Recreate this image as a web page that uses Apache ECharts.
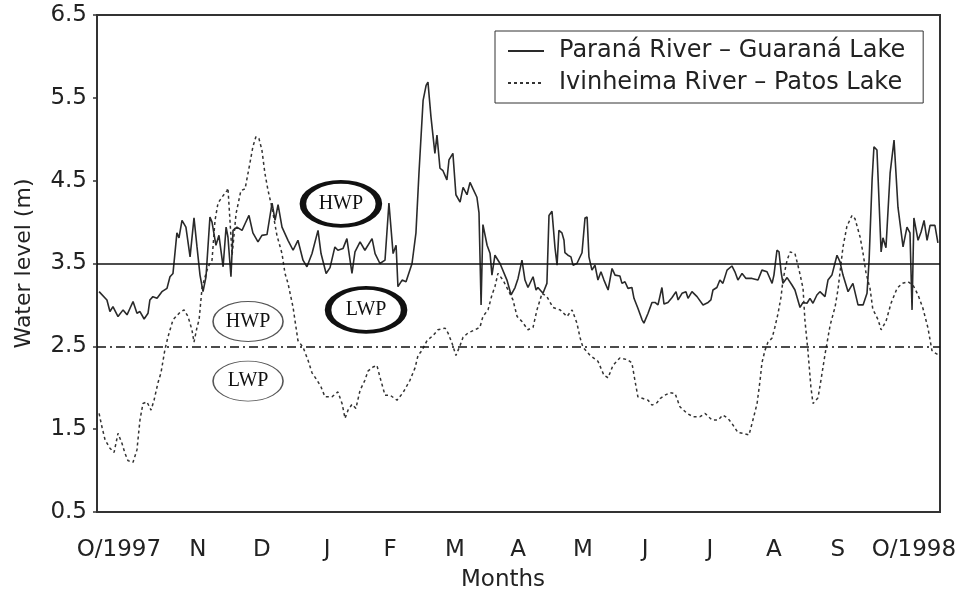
<!DOCTYPE html>
<html>
<head>
<meta charset="utf-8">
<title>Water level</title>
<script src="https://cdn.jsdelivr.net/npm/echarts@6/dist/echarts.min.js"></script>
<style>
	html, body { margin: 0; padding: 0; background: #fff; }
	#chart { width: 966px; height: 590px; }
</style>
</head>
<body>
<div id="chart"></div>
<script>
	// month labels and where they sit (days since 1 Oct 1997)
	var monthLabels = ['O/1997', 'N', 'D', 'J', 'F', 'M', 'A', 'M', 'J', 'J', 'A', 'S', 'O/1998'];
	var monthDays = [9.5, 43.7, 71.4, 99.6, 126.9, 155.0, 182.3, 210.4, 237.3, 265.4, 293.1, 320.8, 353.7];
	var levelTicks = [0.5, 1.5, 2.5, 3.5, 4.5, 5.5, 6.5];

	// Paraná River - Guaraná Lake
	var paranaDays = [0.9,4.3,5.6,6.9,9.1,11.3,13.0,14.3,15.6,17.3,
		18.6,20.4,22.1,22.9,24.2,26.0,28.1,30.3,31.6,32.9,
		34.6,35.5,36.8,38.5,40.3,42.0,43.3,44.6,45.9,47.2,
		48.9,49.8,51.5,52.8,54.6,55.9,56.7,58.0,58.9,60.6,
		62.8,64.1,65.8,67.5,69.7,71.4,73.6,75.8,77.1,78.4,
		80.1,82.7,84.9,87.0,89.2,90.9,93.1,95.7,97.0,99.2,
		100.9,103.0,104.3,106.5,108.2,110.4,111.7,113.9,116.0,119.1,
		120.4,122.5,124.7,126.4,128.2,129.5,130.3,132.1,133.8,136.4,
		138.1,139.4,141.2,142.5,143.3,144.6,146.3,147.2,148.5,149.8,
		151.5,152.4,154.1,155.4,157.2,158.5,160.2,161.5,162.8,164.5,
		165.4,166.3,167.1,168.9,170.2,171.0,172.3,174.5,177.5,179.3,
		181.0,182.3,184.0,185.3,186.6,188.8,190.1,190.9,193.1,194.8,
		195.7,197.0,198.3,199.2,200.0,201.3,202.2,202.6,203.9,205.2,
		206.1,207.8,210.0,211.3,212.2,213.0,214.3,215.6,216.9,218.2,
		219.5,221.3,223.0,224.3,226.4,227.3,228.6,229.9,231.6,232.5,
		234.2,236.0,236.8,238.6,240.3,241.6,242.9,244.6,245.5,247.2,
		249.0,250.7,251.6,253.3,255.0,255.9,257.6,259.8,262.4,264.6,
		265.8,266.7,268.4,269.7,271.0,272.8,274.9,276.2,277.5,279.3,
		281.0,283.6,286.2,287.9,290.1,292.3,293.1,294.4,295.3,296.2,
		297.0,298.8,300.9,302.2,304.4,305.7,307.4,308.7,310.0,311.7,
		313.0,315.2,316.5,318.2,320.4,321.7,323.0,325.2,327.3,329.5,
		331.7,333.4,334.3,335.6,336.4,337.7,339.5,340.3,341.6,343.4,
		345.1,346.8,349.0,350.7,352.0,352.9,353.7,355.5,356.8,358.1,
		359.4,360.7,362.8,364.1];
	var paranaLevels = [3.16,3.06,2.92,2.98,2.86,2.94,2.88,2.96,3.04,2.90,
		2.92,2.83,2.90,3.06,3.10,3.08,3.16,3.20,3.34,3.38,
		3.87,3.81,4.02,3.94,3.58,4.05,3.70,3.36,3.16,3.34,
		4.06,4.00,3.72,3.84,3.46,3.94,3.82,3.34,3.90,3.94,
		3.90,3.98,4.08,3.87,3.76,3.84,3.85,4.23,4.02,4.21,
		3.94,3.78,3.66,3.78,3.54,3.46,3.62,3.90,3.62,3.38,
		3.45,3.70,3.66,3.68,3.80,3.38,3.64,3.76,3.66,3.80,
		3.62,3.50,3.54,4.23,3.62,3.72,3.22,3.30,3.28,3.50,
		3.87,4.59,5.47,5.65,5.69,5.27,4.83,5.05,4.65,4.62,
		4.51,4.75,4.83,4.33,4.24,4.42,4.33,4.48,4.40,4.30,
		4.11,3.00,3.97,3.72,3.62,3.36,3.60,3.50,3.30,3.12,
		3.21,3.32,3.54,3.30,3.21,3.34,3.18,3.21,3.14,3.26,
		4.08,4.13,3.69,3.48,3.90,3.87,3.78,3.63,3.60,3.58,
		3.48,3.50,3.63,4.05,4.06,3.58,3.42,3.48,3.30,3.40,
		3.30,3.18,3.44,3.36,3.35,3.26,3.28,3.20,3.21,3.08,
		2.96,2.82,2.78,2.90,3.03,3.03,3.00,3.21,3.01,3.03,
		3.09,3.16,3.06,3.14,3.16,3.08,3.16,3.10,3.00,3.03,
		3.06,3.18,3.21,3.30,3.26,3.42,3.47,3.40,3.30,3.38,
		3.32,3.32,3.30,3.42,3.40,3.26,3.36,3.66,3.64,3.40,
		3.26,3.33,3.24,3.18,2.97,3.03,3.02,3.08,3.02,3.12,
		3.16,3.10,3.30,3.36,3.60,3.52,3.36,3.16,3.26,3.00,
		3.00,3.14,3.54,4.51,4.91,4.87,3.64,3.81,3.69,4.59,
		4.99,4.18,3.70,3.94,3.87,2.94,4.05,3.78,3.88,4.02,
		3.78,3.96,3.96,3.75];

	// Ivinheima River - Patos Lake
	var ivinDays = [0.9,2.2,3.5,5.6,7.4,9.1,10.8,12.1,13.4,15.6,
		17.3,18.6,19.9,21.6,23.4,24.7,26.4,27.7,29.4,30.7,
		32.9,35.9,37.7,39.4,41.1,42.0,43.3,44.2,45.5,46.8,
		48.1,49.8,51.1,52.4,54.1,56.3,56.7,58.5,60.2,62.3,
		64.1,66.2,67.5,68.8,70.1,71.4,72.7,74.0,75.8,77.9,
		80.1,81.4,82.7,84.9,87.0,89.2,91.4,93.1,95.3,97.0,
		98.7,101.7,104.3,106.1,107.4,108.7,110.4,112.1,113.9,116.0,
		117.3,119.5,121.2,122.5,124.7,126.9,129.9,132.5,135.5,137.7,
		139.0,140.7,142.9,145.5,147.6,150.7,152.0,153.7,155.4,157.2,
		158.5,160.6,163.7,165.8,167.1,169.3,171.0,172.3,173.6,175.8,
		178.0,180.1,181.9,184.0,186.6,188.8,190.5,192.7,194.8,197.4,
		200.5,203.5,205.7,207.8,209.1,210.4,213.5,216.9,219.5,221.3,
		223.4,226.4,229.5,231.6,232.9,234.2,236.4,238.6,240.3,242.5,
		243.8,245.9,248.1,250.3,252.4,255.5,258.1,261.1,263.3,266.3,
		268.9,271.0,273.2,274.9,277.5,279.7,282.3,284.0,285.8,287.1,
		287.9,289.2,290.5,292.3,293.5,294.9,296.2,297.0,298.8,300.1,
		302.2,304.0,305.7,306.5,307.8,309.1,310.0,312.2,313.5,315.2,
		317.4,319.6,320.8,323.0,324.7,326.9,328.2,330.4,331.7,333.0,
		334.7,335.9,338.2,339.5,341.6,343.8,346.4,348.6,351.1,353.3,
		355.5,357.6,359.8,361.5,362.8,364.1];
	var ivinLevels = [1.69,1.52,1.37,1.27,1.22,1.45,1.33,1.21,1.12,1.10,
		1.25,1.61,1.81,1.83,1.73,1.85,2.06,2.18,2.46,2.61,
		2.82,2.91,2.94,2.86,2.70,2.55,2.73,2.82,3.21,3.34,
		3.46,3.54,4.02,4.23,4.30,4.38,4.41,3.60,4.10,4.38,
		4.40,4.71,4.91,5.03,5.01,4.87,4.59,4.39,4.17,3.84,
		3.62,3.38,3.26,2.97,2.57,2.49,2.33,2.18,2.09,2.01,
		1.89,1.89,1.95,1.81,1.63,1.73,1.80,1.75,1.97,2.09,
		2.20,2.25,2.27,2.13,1.91,1.91,1.85,1.94,2.09,2.24,
		2.39,2.45,2.57,2.63,2.70,2.72,2.66,2.54,2.39,2.51,
		2.61,2.66,2.70,2.73,2.86,2.94,3.12,3.22,3.38,3.30,
		3.18,3.06,2.86,2.80,2.70,2.73,2.94,3.14,3.10,2.97,
		2.94,2.86,2.94,2.78,2.61,2.49,2.39,2.32,2.15,2.12,
		2.27,2.36,2.34,2.30,2.09,1.89,1.87,1.85,1.79,1.82,
		1.87,1.91,1.94,1.93,1.77,1.69,1.65,1.65,1.69,1.61,
		1.61,1.67,1.63,1.57,1.46,1.45,1.43,1.61,1.81,2.09,
		2.30,2.45,2.55,2.60,2.73,2.90,3.10,3.30,3.54,3.64,
		3.62,3.42,3.20,2.82,2.45,2.01,1.81,1.88,2.10,2.40,
		2.75,2.98,3.18,3.70,3.95,4.08,4.04,3.82,3.62,3.38,
		3.20,2.95,2.82,2.70,2.80,3.02,3.20,3.26,3.28,3.24,
		3.12,2.96,2.72,2.45,2.42,2.40];

	// high / low water period limits
	var hwpLimits = [3.5, 2.5];

	function pairs(xs, ys) {
		var out = [];
		for (var i = 0; i < xs.length && i < ys.length; i++) {
			out.push([xs[i], ys[i]]);
		}
		return out;
	}

	var font = 'DejaVu Sans';
	var ink = '#222';

	// ellipse label for HWP / LWP
	function ellipse(day, level, text, thick) {
		return {
			coord: [day, level],
			symbol: 'circle',
			symbolSize: thick ? [76, 44] : [70, 40],
			itemStyle: {
				color: '#fff',
				borderColor: thick ? '#111' : '#555',
				borderWidth: thick ? 5 : 1.2
			},
			label: {
				show: true,
				position: 'inside',
				formatter: text,
				fontFamily: 'Liberation Serif',
				fontSize: 20,
				color: '#111'
			}
		};
	}

	var myChart = echarts.init(document.getElementById('chart'));
	var option = {
		animation: false,
		backgroundColor: '#fff',
		grid: {
			left: 97,
			right: 26,
			top: 15,
			bottom: 78,
			outerBoundsMode: 'none',
			show: true,
			borderColor: '#333',
			borderWidth: 2
		},
		legend: {
			left: 495,
			top: 31,
			orient: 'vertical',
			data: ['Paraná River – Guaraná Lake', 'Ivinheima River – Patos Lake'],
			borderColor: '#333',
			borderWidth: 1,
			padding: [8, 18, 8, 12],
			itemWidth: 36,
			itemHeight: 14,
			itemGap: 8,
			// hide the circle symbol, keep only the line
			itemStyle: {
				color: 'rgba(0,0,0,0)',
				borderWidth: 0,
				opacity: 0
			},
			textStyle: {
				fontFamily: font,
				fontSize: 24,
				color: ink,
				padding: [0, 0, 0, 10]
			}
		},
		xAxis: {
			type: 'value',
			min: 0,
			max: 365,
			name: 'Months',
			nameLocation: 'middle',
			nameGap: 57,
			nameTextStyle: {
				fontFamily: font,
				fontSize: 23,
				color: ink,
				padding: [0, 31, 0, 0]
			},
			axisLine: { lineStyle: { color: '#333', width: 2 } },
			axisTick: { show: false },
			splitLine: { show: false },
			axisLabel: {
				customValues: monthDays,
				margin: 27,
				fontFamily: font,
				fontSize: 23,
				color: ink,
				formatter: function(v) {
					var i = monthDays.indexOf(v);
					return i >= 0 ? monthLabels[i] : '';
				}
			}
		},
		yAxis: {
			type: 'value',
			min: levelTicks[0],
			max: levelTicks[levelTicks.length - 1],
			interval: 1,
			name: 'Water level (m)',
			nameLocation: 'middle',
			nameGap: 62,
			nameRotate: 90,
			nameTextStyle: {
				fontFamily: font,
				fontSize: 22,
				color: ink
			},
			axisLine: { show: true, lineStyle: { color: '#333', width: 2 } },
			axisTick: { show: true, length: 4, lineStyle: { color: '#333', width: 1.5 } },
			splitLine: { show: false },
			axisLabel: {
				margin: 10,
				fontFamily: font,
				fontSize: 23,
				color: ink,
				formatter: function(v) {
					return v.toFixed(1);
				}
			}
		},
		series: [{
			name: 'Paraná River – Guaraná Lake',
			type: 'line',
			showSymbol: false,
			symbol: 'none',
			data: pairs(paranaDays, paranaLevels),
			lineStyle: { color: '#2a2a2a', width: 1.6 },
			itemStyle: { color: '#2a2a2a' },
			z: 3
		}, {
			name: 'Ivinheima River – Patos Lake',
			type: 'line',
			showSymbol: false,
			symbol: 'none',
			data: pairs(ivinDays, ivinLevels),
			lineStyle: { color: '#333', width: 1.5, type: [3, 3] },
			itemStyle: { color: '#333' },
			z: 2
		}, {
			// reference lines and HWP / LWP labels
			name: 'limits',
			type: 'line',
			data: [],
			z: 4,
			markLine: {
				silent: true,
				symbol: 'none',
				label: { show: false },
				data: [{
					yAxis: hwpLimits[0],
					lineStyle: { color: '#111', width: 1.6, type: 'solid' }
				}, {
					yAxis: hwpLimits[1],
					lineStyle: { color: '#111', width: 1.5, type: [9, 4, 2, 4] }
				}]
			},
			markPoint: {
				silent: true,
				data: [
					ellipse(105.6, 4.22, 'HWP', true),
					ellipse(116.5, 2.94, 'LWP', true),
					ellipse(65.4, 2.80, 'HWP', false),
					ellipse(65.4, 2.08, 'LWP', false)
				]
			}
		}]
	};
	myChart.setOption(option);
</script>
</body>
</html>
